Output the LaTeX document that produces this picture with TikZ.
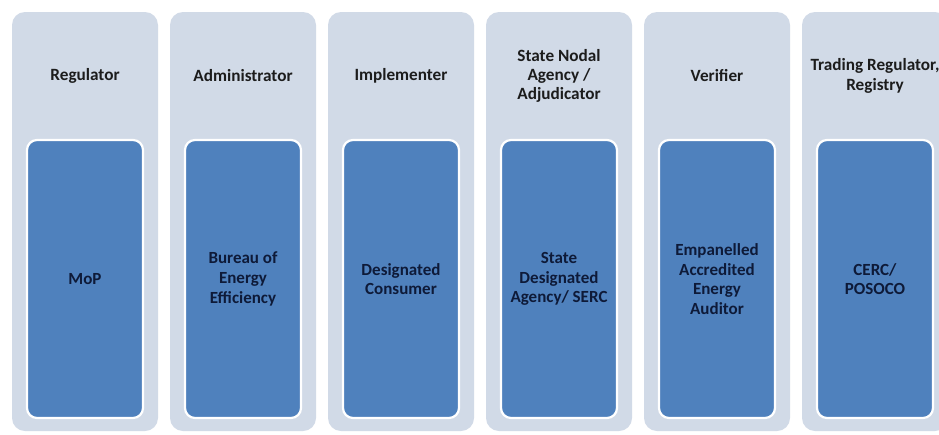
\documentclass[tikz,border=0pt]{standalone}
\usepackage{fontspec}
\setmainfont{Carlito}
\begin{document}
\definecolor{lanebg}{HTML}{D1DAE7}
\definecolor{cardfill}{HTML}{4F81BD}
\definecolor{cardtext}{HTML}{0E1A38}
\definecolor{headtext}{HTML}{1C1C1C}
\begin{tikzpicture}[x=1pt,y=-1pt,
  lane/.style={fill=lanebg, draw=none, rounded corners=13pt},
  card/.style={fill=cardfill, draw=white, line width=2.2pt, rounded corners=10pt},
  headlabel/.style={font=\bfseries\fontsize{17.2}{19.2}\selectfont, text=headtext, align=center},
  cardlabel/.style={font=\bfseries\fontsize{17}{19.6}\selectfont, text=cardtext, align=center}]
  \useasboundingbox (0,0) rectangle (939,434);
  \fill[white] (0,0) rectangle (939,434);
  \foreach \i/\head/\body in {
      0/{Regulator}/{MoP},
      1/{Administrator}/{Bureau of\\Energy\\Efficiency},
      2/{Implementer}/{Designated\\Consumer},
      3/{State Nodal\\Agency /\\Adjudicator}/{State\\Designated\\Agency/ SERC},
      4/{Verifier}/{Empanelled\\Accredited\\Energy\\Auditor},
      5/{Trading Regulator,\\Registry}/{CERC/\\POSOCO}} {
    \pgfmathsetmacro{\xl}{12+158*\i}
    \path[lane] (\xl,12) rectangle ++(146,419);
    \path[card] (\xl+15,140) rectangle ++(116,278);
    \node[headlabel] (h\i) at (\xl+73,76) {\head};
    \node[cardlabel] (c\i) at (\xl+73,279) {\body};
  }
\end{tikzpicture}
\end{document}
